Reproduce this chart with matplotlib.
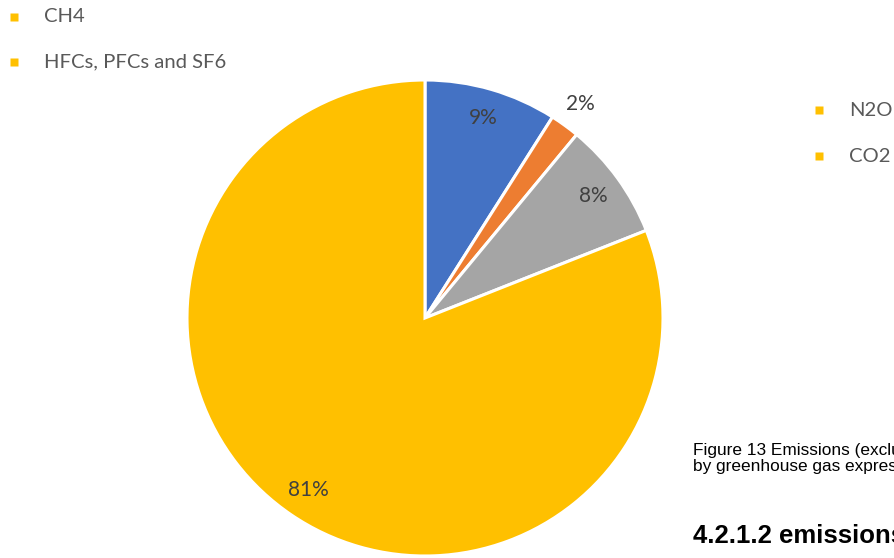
import numpy as np
import matplotlib
matplotlib.use("Agg")
import matplotlib.pyplot as plt

# greenhouse gas shares (%), clockwise from 12 o'clock
gases = ["CH4", "N2O", "HFCs, PFCs and SF6", "CO2"]
shares = [9, 2, 8, 81]
colors = ["#4472C4", "#ED7D31", "#A5A5A5", "#FFC000"]

# legend entries as they sit on the page
legend_left = ["CH4", "HFCs, PFCs and SF6"]
legend_right = ["N2O", "CO2"]

W, H = 894, 558
fig = plt.figure(figsize=(W / 100, H / 100), dpi=100)
ax = fig.add_axes([0, 0, 1, 1])

cx, cy, r = 425, H - 318, 238
wedges, _ = ax.pie(shares, colors=colors, startangle=90, counterclock=False,
                   center=(cx, cy), radius=r, frame=True,
                   wedgeprops=dict(edgecolor="white", linewidth=2.2))
ax.set_xlim(0, W)
ax.set_ylim(0, H)
ax.set_aspect("equal")
ax.axis("off")

# percentage labels, small slice goes outside
for w, v in zip(wedges, shares):
    mid = np.deg2rad((w.theta1 + w.theta2) / 2)
    d = 1.11 if v < 5 else 0.875
    x = cx + d * r * np.cos(mid)
    y = cy + d * r * np.sin(mid)
    ax.text(x, y, f"{v}%", ha="center", va="center", fontsize=15,
            color="#404040", family="Lato")

def legend_item(x, y, label):
    ax.plot(x, H - y, marker="s", ms=6, color="#FFC000", mec="none")
    ax.text(x + 30, H - y, label, ha="left", va="center", fontsize=14.6,
            color="#595959", family="Lato")

for i, lab in enumerate(legend_left):
    legend_item(14, 17 + 45 * i, lab)
for i, lab in enumerate(legend_right):
    legend_item(819, 110 + 46 * i, lab)

# caption and section heading next to the chart
fig.text(693 / W, 1 - 455 / H, "Figure 13 Emissions (excluding LULUCF)",
         fontsize=12.4, family="Liberation Sans", color="black", va="baseline")
fig.text(693 / W, 1 - 471 / H, "by greenhouse gas expressed in CO2 equivalent",
         fontsize=12.4, family="Liberation Sans", color="black", va="baseline")
fig.text(693 / W, 1 - 543 / H, "4.2.1.2 emissions",
         fontsize=18.5, fontweight="bold", family="Liberation Sans",
         color="black", va="baseline")

fig.savefig("out.png", dpi=100)
